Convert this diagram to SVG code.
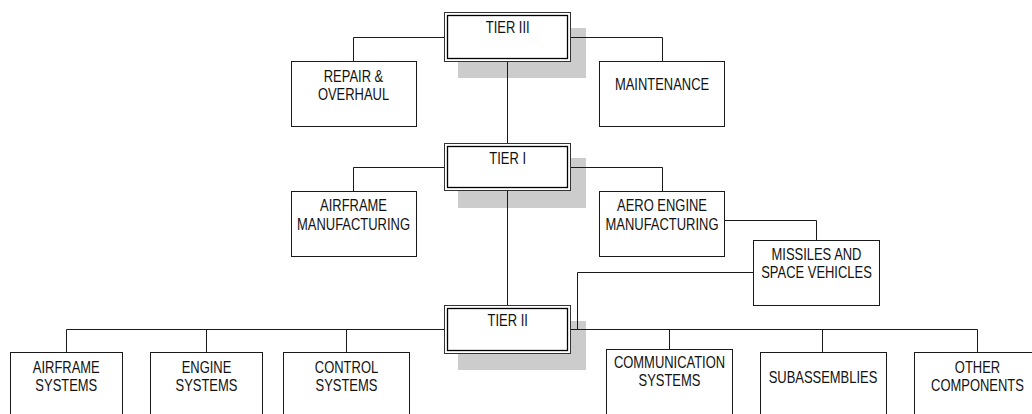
<svg xmlns="http://www.w3.org/2000/svg" width="1032" height="414" viewBox="0 0 1032 414">
<style>
.bg{fill:#ffffff}
.shadow{fill:#cccccc}
.box{fill:#ffffff;stroke:#1a1a1a;stroke-width:1}
.outer{fill:#ffffff;stroke:#333333;stroke-width:1}
.inner{fill:none;stroke:#000000;stroke-width:1.3}
.conn{fill:none;stroke:#1a1a1a;stroke-width:1}
text{font-family:"Liberation Sans",Arial,sans-serif;font-size:16px;fill:#111111;text-anchor:middle}
</style>
<rect class="bg" x="0" y="0" width="1032" height="414"/>
<g id="shadows">
<rect class="shadow" x="458" y="28" width="128" height="50"/>
<rect class="shadow" x="458" y="158" width="128" height="50"/>
<rect class="shadow" x="458" y="321" width="128" height="49"/>
</g>
<g id="connectors">
<polyline class="conn" points="444.5,37.5 353.5,37.5 353.5,61.5"/>
<polyline class="conn" points="570.5,37.5 662.5,37.5 662.5,61.5"/>
<line class="conn" x1="507.5" y1="61.5" x2="507.5" y2="143.5"/>
<polyline class="conn" points="444.5,167.5 353.5,167.5 353.5,191.5"/>
<polyline class="conn" points="570.5,167.5 662.5,167.5 662.5,191.5"/>
<line class="conn" x1="507.5" y1="190.5" x2="507.5" y2="305.5"/>
<polyline class="conn" points="725,220.5 816.5,220.5 816.5,240.5"/>
<polyline class="conn" points="753.5,272.5 577.5,272.5 577.5,329.5"/>
<line class="conn" x1="66.5" y1="329.5" x2="444.5" y2="329.5"/>
<line class="conn" x1="570.5" y1="329.5" x2="977.5" y2="329.5"/>
<line class="conn" x1="66.5" y1="329.5" x2="66.5" y2="352.5"/>
<line class="conn" x1="206.5" y1="329.5" x2="206.5" y2="352.5"/>
<line class="conn" x1="346.5" y1="329.5" x2="346.5" y2="352.5"/>
<line class="conn" x1="669.5" y1="329.5" x2="669.5" y2="349.5"/>
<line class="conn" x1="822.5" y1="329.5" x2="822.5" y2="352.5"/>
<line class="conn" x1="977.5" y1="329.5" x2="977.5" y2="352.5"/>
</g>
<g id="tier3">
<rect class="outer" x="444.5" y="12.5" width="126" height="49"/>
<rect class="inner" x="447.5" y="15.5" width="120" height="43"/>
<text transform="translate(507.7,33) scale(0.81,1)">TIER III</text>
</g>
<g id="repair">
<rect class="box" x="291.5" y="61.5" width="125" height="65"/>
<text transform="translate(353.5,81.5) scale(0.81,1)">REPAIR &amp;</text>
<text transform="translate(353.5,100) scale(0.81,1)">OVERHAUL</text>
</g>
<g id="maintenance">
<rect class="box" x="599.5" y="61.5" width="125" height="65"/>
<text transform="translate(662,90) scale(0.81,1)">MAINTENANCE</text>
</g>
<g id="tier1">
<rect class="outer" x="444.5" y="143.5" width="126" height="47"/>
<rect class="inner" x="447.5" y="146.5" width="120" height="41"/>
<text transform="translate(507.7,163.5) scale(0.81,1)">TIER I</text>
</g>
<g id="airframe-manufacturing">
<rect class="box" x="291.5" y="191.5" width="125" height="65"/>
<text transform="translate(353.5,211) scale(0.81,1)">AIRFRAME</text>
<text transform="translate(353.5,229.5) scale(0.81,1)">MANUFACTURING</text>
</g>
<g id="aero-engine">
<rect class="box" x="599.5" y="191.5" width="125" height="65"/>
<text transform="translate(662,211) scale(0.81,1)">AERO ENGINE</text>
<text transform="translate(662,229.5) scale(0.81,1)">MANUFACTURING</text>
</g>
<g id="missiles">
<rect class="box" x="753.5" y="240.5" width="126" height="65"/>
<text transform="translate(816.5,260) scale(0.81,1)">MISSILES AND</text>
<text transform="translate(816.5,278) scale(0.81,1)">SPACE VEHICLES</text>
</g>
<g id="tier2">
<rect class="outer" x="444.5" y="305.5" width="126" height="48"/>
<rect class="inner" x="447.5" y="308.5" width="120" height="42"/>
<text transform="translate(507.7,325.5) scale(0.81,1)">TIER II</text>
</g>
<g id="airframe-systems">
<rect class="box" x="10.5" y="352.5" width="112" height="100"/>
<text transform="translate(66.3,372.5) scale(0.81,1)">AIRFRAME</text>
<text transform="translate(66.3,391) scale(0.81,1)">SYSTEMS</text>
</g>
<g id="engine-systems">
<rect class="box" x="150.5" y="352.5" width="112" height="100"/>
<text transform="translate(206.5,372.5) scale(0.81,1)">ENGINE</text>
<text transform="translate(206.5,391) scale(0.81,1)">SYSTEMS</text>
</g>
<g id="control-systems">
<rect class="box" x="283.5" y="352.5" width="126" height="100"/>
<text transform="translate(346.5,372.5) scale(0.81,1)">CONTROL</text>
<text transform="translate(346.5,391) scale(0.81,1)">SYSTEMS</text>
</g>
<g id="communication-systems">
<rect class="box" x="606.5" y="349.5" width="126" height="100"/>
<text transform="translate(669.5,367.5) scale(0.81,1)">COMMUNICATION</text>
<text transform="translate(669.5,386) scale(0.81,1)">SYSTEMS</text>
</g>
<g id="subassemblies">
<rect class="box" x="760.5" y="352.5" width="126" height="100"/>
<text transform="translate(823,382.5) scale(0.81,1)">SUBASSEMBLIES</text>
</g>
<g id="other-components">
<rect class="box" x="914.5" y="352.5" width="130" height="100"/>
<text transform="translate(977.5,372.5) scale(0.81,1)">OTHER</text>
<text transform="translate(977.5,391) scale(0.81,1)">COMPONENTS</text>
</g>
</svg>
